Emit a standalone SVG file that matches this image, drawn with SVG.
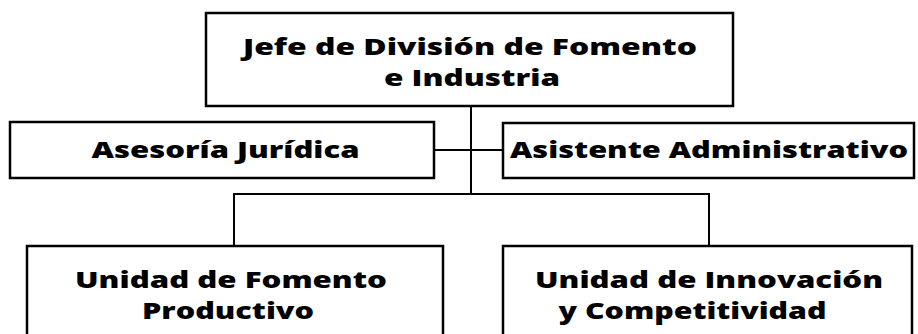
<svg xmlns="http://www.w3.org/2000/svg" width="918" height="334" viewBox="0 0 918 334">
<style>
.box{fill:#fff;stroke:#000;stroke-width:2.5}
.t{font-family:"Open Sans","DejaVu Sans",sans-serif;font-weight:800;font-size:23px;fill:#000;text-anchor:middle}
.c{fill:none;stroke:#000;stroke-width:2}
</style>
<rect width="918" height="334" fill="#fff"/>
<g id="connectors">
<path class="c" d="M471 106V194"/>
<path class="c" d="M434 150H503"/>
<path class="c" d="M234 246V194H709V246"/>
</g>
<g id="jefe">
<rect class="box" x="206" y="13" width="527" height="93"/>
<text class="t" x="470" y="55" textLength="454" lengthAdjust="spacingAndGlyphs">Jefe de División de Fomento</text>
<text class="t" x="472" y="86" textLength="176" lengthAdjust="spacingAndGlyphs">e Industria</text>
</g>
<g id="asesoria">
<rect class="box" x="10" y="122" width="424" height="56"/>
<text class="t" x="225.5" y="158" textLength="268" lengthAdjust="spacingAndGlyphs">Asesoría Jurídica</text>
</g>
<g id="asistente">
<rect class="box" x="503" y="123" width="411" height="55"/>
<text class="t" x="709" y="158" textLength="398" lengthAdjust="spacingAndGlyphs">Asistente Administrativo</text>
</g>
<g id="fomento">
<rect class="box" x="27" y="246" width="416" height="100"/>
<text class="t" x="231" y="288" textLength="312" lengthAdjust="spacingAndGlyphs">Unidad de Fomento</text>
<text class="t" x="228" y="319" textLength="172" lengthAdjust="spacingAndGlyphs">Productivo</text>
</g>
<g id="innovacion">
<rect class="box" x="503" y="246" width="409" height="100"/>
<text class="t" x="709" y="288" textLength="348" lengthAdjust="spacingAndGlyphs">Unidad de Innovación</text>
<text class="t" x="692.5" y="319" textLength="268" lengthAdjust="spacingAndGlyphs">y Competitividad</text>
</g>
</svg>
